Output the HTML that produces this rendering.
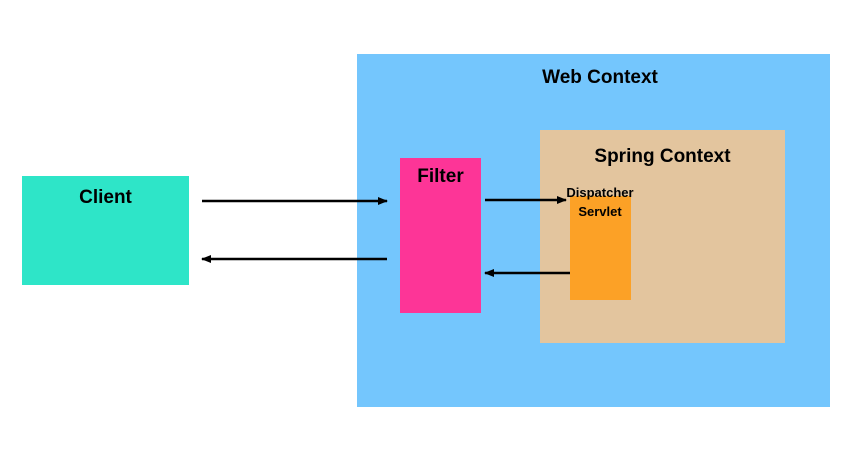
<!DOCTYPE html>
<html><head><style>
body{margin:0;width:858px;height:449px;background:#fff;position:relative;overflow:hidden;font-family:"Liberation Sans",Arial,sans-serif;font-weight:bold;}
div{position:absolute;box-sizing:border-box;}
.t{text-align:center;color:#000;}
</style></head><body>
<div style="left:22px;top:176px;width:167px;height:109px;background:#2ee5c8"></div>
<div class="t" style="left:22px;top:187px;width:167px;font-size:19px">Client</div>
<div style="left:357px;top:54px;width:473px;height:353px;background:#74c6fd"></div>
<div class="t" style="left:357px;top:67px;width:486px;font-size:19px">Web Context</div>
<div style="left:540px;top:130px;width:245px;height:213px;background:#e3c59e"></div>
<div class="t" style="left:540px;top:146px;width:245px;font-size:19px">Spring Context</div>
<div style="left:400px;top:158px;width:81px;height:155px;background:#fd3597"></div>
<div class="t" style="left:400px;top:166px;width:81px;font-size:19px">Filter</div>
<div style="left:570px;top:196px;width:61px;height:104px;background:#fca126"></div>
<div class="t" style="left:555px;top:183px;width:90px;font-size:13px;line-height:19px">Dispatcher<br>Servlet</div>
<svg width="858" height="449" style="position:absolute;left:0;top:0">
<defs><marker id="a" markerWidth="10" markerHeight="8" refX="9" refY="4" orient="auto" markerUnits="userSpaceOnUse"><path d="M0,0L10,4L0,8z" fill="#000"/></marker></defs>
<g stroke="#000" stroke-width="2.5" marker-end="url(#a)">
<line x1="202" y1="201" x2="387" y2="201"/>
<line x1="387" y1="259" x2="202" y2="259"/>
<line x1="485" y1="200" x2="566" y2="200"/>
<line x1="570" y1="273" x2="485" y2="273"/>
</g></svg>
</body></html>
